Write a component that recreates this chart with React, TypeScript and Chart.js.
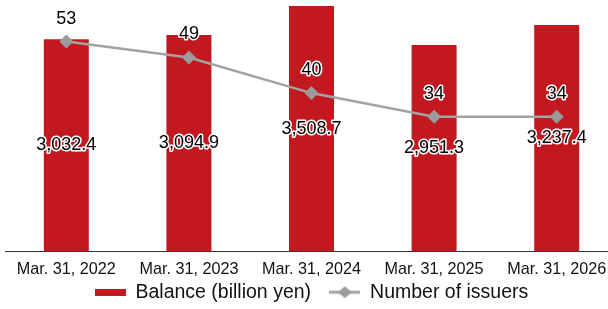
import React, { useEffect, useRef } from 'react';
import { Chart, registerables } from 'chart.js';

Chart.register(...registerables);

const categories = ['Mar. 31, 2022', 'Mar. 31, 2023', 'Mar. 31, 2024', 'Mar. 31, 2025', 'Mar. 31, 2026'];
const balance = [3032.4, 3094.9, 3508.7, 2951.3, 3237.4];
const issuers = [53, 49, 40, 34, 34];
const balanceName = 'Balance (billion yen)';
const issuersName = 'Number of issuers';

const BAR_COLOR = '#C1191F';
const LINE_COLOR = '#A3A3A3';
const POINT_COLOR = '#9B9B9B';
const FONT = "'Liberation Sans', Arial, sans-serif";

function barMarker(): HTMLCanvasElement {
  const c = document.createElement('canvas');
  c.width = 31;
  c.height = 7;
  const g = c.getContext('2d')!;
  g.fillStyle = BAR_COLOR;
  g.fillRect(0, 0, 31, 7);
  return c;
}

function lineMarker(): HTMLCanvasElement {
  const c = document.createElement('canvas');
  c.width = 31;
  c.height = 14;
  const g = c.getContext('2d')!;
  g.strokeStyle = LINE_COLOR;
  g.lineWidth = 3;
  g.beginPath();
  g.moveTo(0, 7);
  g.lineTo(31, 7);
  g.stroke();
  g.fillStyle = POINT_COLOR;
  g.beginPath();
  g.moveTo(15.5, 1);
  g.lineTo(22.5, 7);
  g.lineTo(15.5, 13);
  g.lineTo(8.5, 7);
  g.closePath();
  g.fill();
  return c;
}

const valueLabels = {
  id: 'valueLabels',
  afterDatasetsDraw(chart: any) {
    const ctx = chart.ctx;
    ctx.save();
    ctx.font = `18px ${FONT}`;
    ctx.textAlign = 'center';
    ctx.textBaseline = 'middle';
    ctx.lineJoin = 'round';
    ctx.lineWidth = 3;
    ctx.strokeStyle = '#ffffff';
    ctx.fillStyle = '#000000';
    chart.data.datasets.forEach((ds: any, i: number) => {
      const meta = chart.getDatasetMeta(i);
      meta.data.forEach((el: any, j: number) => {
        const v = ds.data[j] as number;
        let text: string;
        let x: number;
        let y: number;
        if (meta.type === 'bar') {
          text = v.toLocaleString('en-US', { minimumFractionDigits: 1, maximumFractionDigits: 1 });
          x = el.x;
          y = (el.y + el.base) / 2;
        } else {
          text = String(v);
          x = el.x;
          y = el.y - 23;
        }
        ctx.strokeText(text, x, y);
        ctx.fillText(text, x, y);
      });
    });
    ctx.restore();
  },
};

export default function App() {
  const ref = useRef<HTMLCanvasElement | null>(null);

  useEffect(() => {
    if (!ref.current) return;
    const markers = [barMarker(), lineMarker()];
    const chart = new Chart(ref.current, {
      type: 'bar',
      data: {
        labels: categories,
        datasets: [
          {
            type: 'line',
            label: issuersName,
            data: issuers,
            yAxisID: 'y2',
            borderColor: LINE_COLOR,
            borderWidth: 2.5,
            pointStyle: 'rectRot',
            pointRadius: 7,
            pointBackgroundColor: POINT_COLOR,
            pointBorderWidth: 0,
            pointBorderColor: POINT_COLOR,
            tension: 0,
            order: 0,
          } as any,
          {
            type: 'bar',
            label: balanceName,
            data: balance,
            yAxisID: 'y',
            backgroundColor: BAR_COLOR,
            borderWidth: 0,
            categoryPercentage: 1,
            barPercentage: 0.367,
            order: 1,
          },
        ],
      },
      options: {
        responsive: false,
        animation: false,
        layout: { padding: 0, autoPadding: false },
        scales: {
          x: {
            grid: { display: false },
            border: { display: true, color: '#333333', width: 1 },
            ticks: {
              color: '#111111',
              font: { family: FONT, size: 16.2, lineHeight: 0.74 },
              padding: 4.5,
              maxRotation: 0,
              autoSkip: false,
            },
          },
          y: { display: false, min: 0, max: 3595 },
          y2: { display: false, min: 0, max: 63.5, position: 'right' },
        },
        plugins: {
          tooltip: { enabled: false },
          legend: {
            position: 'bottom',
            labels: {
              usePointStyle: true,
              pointStyleWidth: 31,
              padding: 2,
              color: '#111111',
              font: { family: FONT, size: 19.5 },
              sort: (a: any, b: any) => b.datasetIndex - a.datasetIndex,
              generateLabels: (chart: any) => {
                const items = Chart.defaults.plugins.legend.labels.generateLabels(chart);
                return items.map((it: any) => ({
                  ...it,
                  pointStyle: it.datasetIndex === 1 ? markers[0] : markers[1],
                  rotation: 0,
                  text: it.datasetIndex === 1 ? balanceName + '   ' : it.text,
                }));
              },
            },
          },
        },
      },
      plugins: [valueLabels],
    });
    return () => chart.destroy();
  }, []);

  return (
    <div style={{ position: 'fixed', left: 0, top: 0, width: 608, height: 309, overflow: 'hidden', background: '#fff' }}>
      <canvas ref={ref} width={613} height={312} style={{ position: 'absolute', left: 5, top: 0, display: 'block' }} />
    </div>
  );
}
